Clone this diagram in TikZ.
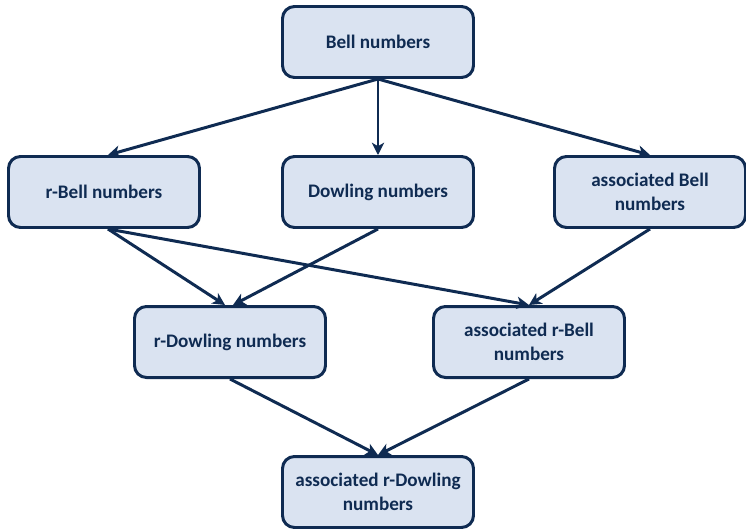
\documentclass[tikz,border=0pt]{standalone}
\usepackage{fontspec}
\setmainfont{Carlito}
\usepackage{tikz}
\usetikzlibrary{arrows.meta, positioning}

\definecolor{navy}{HTML}{0F2B52}
\definecolor{boxfill}{HTML}{DAE3F1}

\begin{document}
\begin{tikzpicture}[-{Stealth[length=7pt,width=7pt,inset=2pt]}, node distance=3cm, on grid, line width=1.7pt, draw=navy,
  every node/.style={rectangle, rounded corners=0.24cm, draw=navy, fill=boxfill, line width=1.7pt,
    minimum width=3.82cm, minimum height=1.42cm, align=center, text=navy,
    font=\fontsize{10.9}{13.6}\selectfont\bfseries} ]

                                \useasboundingbox (-7.56,-9.72) rectangle (7.36,0.84);

                                \node (bell) {Bell numbers};
                                \node (dowling) [below=of bell] {Dowling numbers};
                                \node (rbell) [left=5.48cm of dowling] {r-Bell numbers};
                                \node (abell) [right=5.44cm of dowling] {associated Bell\\numbers};
                                \node (rdowling) [below left=3cm and 2.96cm of dowling] {r-Dowling numbers};
                                \node (arbell) [below right=3cm and 3.02cm of dowling] {associated r-Bell\\numbers};
                                \node (ardowling) [below=6cm of dowling] {associated r-Dowling\\numbers};

                                \draw[navy] (bell.south) to ([xshift=0.08cm]rbell.north);
                                \draw[navy] (bell.south) to (dowling.north);
                                \draw[navy] (bell.south) to (abell.north);
                                \draw[navy] ([xshift=0.08cm]rbell.south) to ([xshift=-0.1cm]rdowling.north);
                                \draw[navy] ([xshift=0.08cm]rbell.south) to (arbell.north);
                                \draw[navy] (dowling.south) to ([xshift=0.06cm]rdowling.north);
                                \draw[navy] (abell.south) to (arbell.north);
                                \draw[navy] (rdowling.south) to (ardowling.north);
                                \draw[navy] (arbell.south) to (ardowling.north);
                        \end{tikzpicture}
\end{document}
